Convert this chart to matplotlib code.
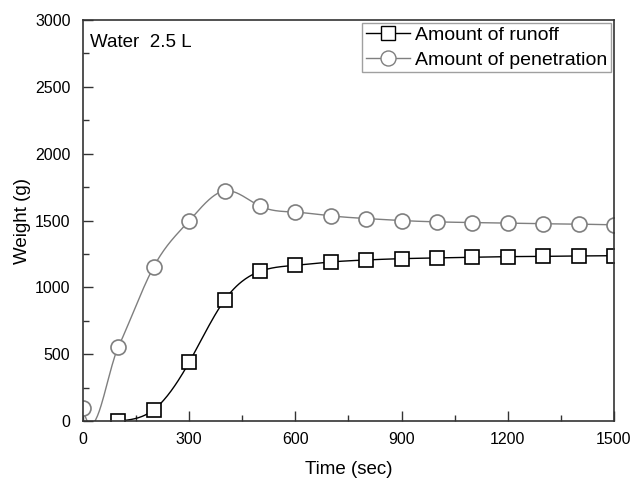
import numpy as np
import matplotlib
matplotlib.use("Agg")
import matplotlib.pyplot as plt
from matplotlib.ticker import MultipleLocator

plt.rcParams['font.family'] = ['Liberation Sans', 'DejaVu Sans']

# data
time_runoff = [100, 200, 300, 400, 500, 600, 700, 800, 900, 1000, 1100, 1200, 1300, 1400, 1500]
runoff = [0, 85, 440, 905, 1120, 1165, 1190, 1205, 1215, 1220, 1225, 1230, 1232, 1235, 1237]

time_pen = [0, 100, 200, 300, 400, 500, 600, 700, 800, 900, 1000, 1100, 1200, 1300, 1400, 1500]
penetration = [100, 555, 1155, 1498, 1722, 1608, 1563, 1535, 1515, 1500, 1490, 1485, 1480, 1476, 1473, 1468]


def spline_curve(x, y, start_slope=None, n=40):
    # natural cubic spline for the connecting line; optionally the first
    # interval is redrawn as a Hermite piece with a given start slope
    x = np.asarray(x, float)
    y = np.asarray(y, float)
    m = len(x)
    h = np.diff(x)
    A = np.zeros((m, m))
    b = np.zeros(m)
    A[0, 0] = A[-1, -1] = 1
    for i in range(1, m - 1):
        A[i, i - 1] = h[i - 1]
        A[i, i] = 2 * (h[i - 1] + h[i])
        A[i, i + 1] = h[i]
        b[i] = 6 * ((y[i + 1] - y[i]) / h[i] - (y[i] - y[i - 1]) / h[i - 1])
    M = np.linalg.solve(A, b)
    xs, ys = [], []
    for i in range(m - 1):
        t = np.linspace(x[i], x[i + 1], n)
        a = x[i + 1] - t
        c = t - x[i]
        s = (M[i] * a ** 3 + M[i + 1] * c ** 3) / (6 * h[i]) \
            + (y[i] / h[i] - M[i] * h[i] / 6) * a \
            + (y[i + 1] / h[i] - M[i + 1] * h[i] / 6) * c
        xs.append(t)
        ys.append(s)
    if start_slope is not None:
        # slope of the spline at x[1]
        d1 = -M[1] * h[1] / 3 - M[2] * h[1] / 6 + (y[2] - y[1]) / h[1]
        t = np.linspace(x[0], x[1], n)
        u = (t - x[0]) / h[0]
        ys[0] = (2 * u ** 3 - 3 * u ** 2 + 1) * y[0] + (u ** 3 - 2 * u ** 2 + u) * h[0] * start_slope \
            + (-2 * u ** 3 + 3 * u ** 2) * y[1] + (u ** 3 - u ** 2) * h[0] * d1
    return np.concatenate(xs), np.concatenate(ys)


fig = plt.figure(figsize=(6.32, 4.78), dpi=100)
ax = fig.add_axes([0.1313, 0.1192, 0.8402, 0.8388])

gray = '#7f7f7f'
sx, sy = spline_curve(time_runoff, runoff)
ax.plot(sx, sy, color='black', lw=1.0)
m1, = ax.plot(time_runoff, runoff, ls='none', marker='s', ms=9.5, mfc='white', mec='black', mew=1.2)

px, py = spline_curve(time_pen, penetration, start_slope=-12)
ax.plot(px, py, color=gray, lw=1.0)
m2, = ax.plot(time_pen, penetration, ls='none', marker='o', ms=10.8, mfc='white', mec=gray, mew=1.2)
m1.set_clip_path(ax.patch)
m2.set_clip_path(ax.patch)

# legend proxies
ax.plot([], [], color='black', lw=1.0, marker='s', ms=9.5, mfc='white', mec='black', label='Amount of runoff')
ax.plot([], [], color=gray, lw=1.0, marker='o', ms=10.8, mfc='white', mec=gray, label='Amount of penetration')
h, l = ax.get_legend_handles_labels()
leg = ax.legend(h, l, loc='upper right', fontsize=14, fancybox=False, frameon=True,
                borderpad=0.18, handlelength=2.3, handletextpad=0.25, labelspacing=0.35,
                borderaxespad=0.15)
leg.get_frame().set_edgecolor('#888888')
leg.get_frame().set_linewidth(1.0)

ax.text(0.013, 0.965, 'Water  2.5 L', transform=ax.transAxes, fontsize=13.5, va='top', ha='left')

ax.set_xlim(0, 1500)
ax.set_ylim(0, 3000)
ax.xaxis.set_major_locator(MultipleLocator(300))
ax.xaxis.set_minor_locator(MultipleLocator(150))
ax.yaxis.set_major_locator(MultipleLocator(500))
ax.yaxis.set_minor_locator(MultipleLocator(250))
ax.tick_params(which='both', direction='in', top=False, right=False, labelsize=11.5, color='#333333')
ax.tick_params(which='major', length=7, width=1)
ax.tick_params(which='minor', length=4, width=1)
ax.tick_params(axis='x', pad=8)
ax.tick_params(axis='y', pad=9)
for sp in ax.spines.values():
    sp.set_linewidth(1.2)
    sp.set_color('#333333')

ax.set_xlabel('Time (sec)', fontsize=13.5, labelpad=10)
ax.set_ylabel('Weight (g)', fontsize=13.5, labelpad=3)

fig.savefig('out.png', dpi=100)
